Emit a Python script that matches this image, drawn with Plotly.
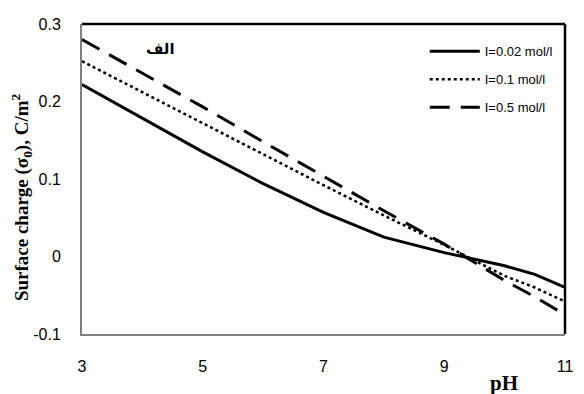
import plotly.graph_objects as go

ph = [3, 4, 5, 6, 7, 8, 9, 10, 10.5, 11]
s_002 = [0.222, 0.178, 0.135, 0.094, 0.057, 0.025, 0.005, -0.012, -0.023, -0.040]
s_01 = [0.252, 0.212, 0.172, 0.131, 0.092, 0.053, 0.015, -0.025, -0.040, -0.058]
s_05 = [0.280, 0.237, 0.193, 0.148, 0.103, 0.059, 0.016, -0.031, -0.052, -0.075]
names = ["I=0.02 mol/l", "I=0.1 mol/l", "I=0.5 mol/l"]
dashes = ["solid", "dot", "20px,11px"]
xticks = [3, 5, 7, 9, 11]
yticks = [-0.1, 0, 0.1, 0.2, 0.3]

fig = go.Figure()
for i, (ys, nm, d) in enumerate(zip([s_002, s_01, s_05], names, dashes)):
    fig.add_trace(go.Scatter(x=ph, y=ys, mode="lines", name=nm, legendgroup=f"g{i}",
                             line=dict(color="black", width=3 if d != "dot" else 2.5, dash=d)))

tickfont = dict(family="Liberation Sans, Arial", size=16, color="black")
fig.update_layout(
    width=584, height=394,
    margin=dict(l=82, r=11, t=24, b=60),
    paper_bgcolor="white", plot_bgcolor="white",
    showlegend=True,
    legend=dict(x=0.985, y=0.96, xanchor="right", yanchor="top",
                font=dict(family="Liberation Sans, Arial", size=13, color="black"),
                bgcolor="rgba(0,0,0,0)", itemwidth=50, tracegroupgap=8),
    font=dict(family="Liberation Sans, Arial", size=15, color="black"),
)
fig.update_xaxes(range=[3, 11], tickvals=xticks, ticktext=[str(v) for v in xticks],
                 showgrid=False, zeroline=False, showline=True, linecolor="#808080", linewidth=2,
                 ticks="outside", ticklen=17, tickcolor="rgba(0,0,0,0)",
                 tickfont=tickfont)
fig.update_yaxes(range=[-0.1, 0.3], tickvals=yticks, ticktext=["-0.1", "0", "0.1", "0.2", "0.3"],
                 showgrid=False, zeroline=False, showline=True, linecolor="#808080", linewidth=2,
                 ticks="outside", ticklen=16, tickcolor="rgba(0,0,0,0)",
                 tickfont=tickfont)
# top and right frame
fig.add_shape(type="line", xref="paper", yref="paper", x0=0, x1=1, y0=1, y1=1,
              line=dict(color="black", width=2.5))
fig.add_shape(type="line", xref="paper", yref="paper", x0=1, x1=1, y0=0, y1=1,
              line=dict(color="black", width=2.5))

fig.add_annotation(xref="paper", yref="paper", x=0.874, y=-0.158, xanchor="center", yanchor="middle",
                   text="<b>pH</b>",
                   showarrow=False, font=dict(family="Liberation Serif, Times New Roman", size=21))
fig.add_annotation(xref="paper", yref="paper", x=-0.124, y=0.442, xanchor="center", yanchor="middle",
                   textangle=-90,
                   text="<b>Surface charge (σ<sub>0</sub>), C/m<sup>2</sup></b>",
                   showarrow=False, font=dict(family="Liberation Serif, Times New Roman", size=19))
fig.add_annotation(xref="paper", yref="paper", x=0.163, y=0.92, xanchor="center", yanchor="middle",
                   text="<b>الف</b>",
                   showarrow=False, font=dict(family="DejaVu Sans", size=15))

fig.write_html("out.html")
